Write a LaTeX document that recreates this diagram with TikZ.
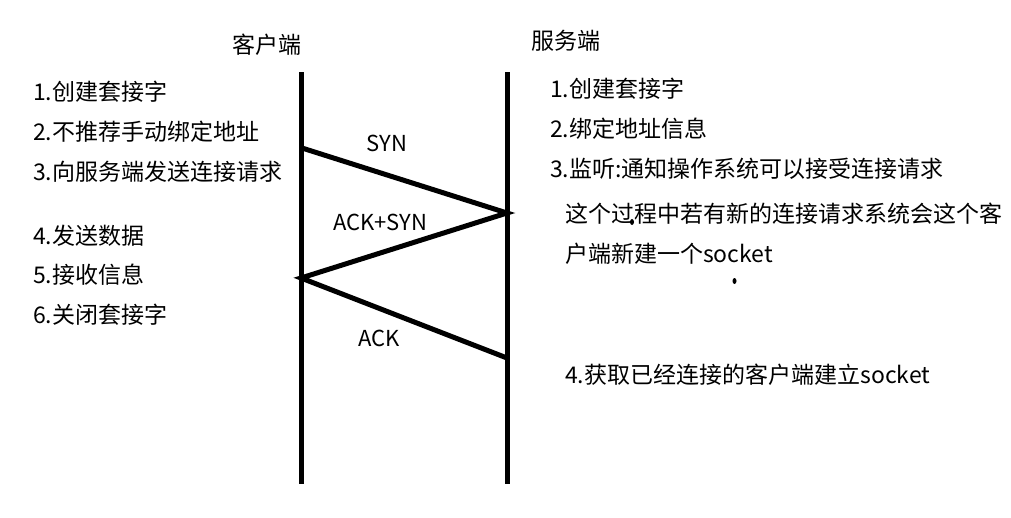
\documentclass[tikz,border=0pt]{standalone}
\usepackage{fontspec}
\setmainfont{Noto Sans CJK SC}
\begin{document}
\begin{tikzpicture}[x=1pt,y=-1pt,
  txt/.style={anchor=base west,inner sep=0pt,font=\fontsize{23}{27}\selectfont},
  lbl/.style={anchor=base,inner sep=0pt,font=\fontsize{22}{26}\selectfont},
  life/.style={line width=5pt},
  msg/.style={line width=5pt,line cap=round}]
\useasboundingbox (0,0) rectangle (1011,517);
% lifelines
\coordinate (ct) at (301.5,72);
\coordinate (cb) at (301.5,484);
\coordinate (st) at (507.5,72);
\coordinate (sb) at (507.5,484);
\draw[life] (ct) -- (cb);
\draw[life] (st) -- (sb);
% messages
\coordinate (m1) at (302,148);
\coordinate (m2) at (507,213);
\coordinate (m3) at (301,278);
\coordinate (m4) at (507,358);
\draw[msg] (m1) -- (m2) -- (m3) -- (m4);
\node[lbl] (syn) at (387,151) {SYN};
\node[lbl] (acksyn) at (380,230) {ACK+SYN};
\node[lbl] (ack) at (379,346) {ACK};
% titles
\node[txt] (client) at (232,53.5) {客户端};
\node[txt] (server) at (531,49.5) {服务端};
% client list
\node[txt] (c1) at (33,100.5) {1.创建套接字};
\node[txt] (c2) at (33,140.5) {2.不推荐手动绑定地址};
\node[txt] (c3) at (33,180.5) {3.向服务端发送连接请求};
\node[txt] (c4) at (33,244) {4.发送数据};
\node[txt] (c5) at (33,283.5) {5.接收信息};
\node[txt] (c6) at (33,323) {6.关闭套接字};
% server list
\node[txt] (s1) at (550,97.5) {1.创建套接字};
\node[txt] (s2) at (550,137.5) {2.绑定地址信息};
\node[txt] (s3) at (550,177.5) {3.监听:通知操作系统可以接受连接请求};
\node[txt] (s3a) at (565,222.5) {这个过程中若有新的连接请求系统会这个客};
\node[txt] (s3b) at (565,262.5) {户端新建一个socket};
\node[txt] (s4) at (565,383.5) {4.获取已经连接的客户端建立socket};
% stray dots
\fill (632,222) ellipse (2pt and 3pt);
\fill (734.5,281) ellipse (2pt and 3pt);
\end{tikzpicture}
\end{document}
